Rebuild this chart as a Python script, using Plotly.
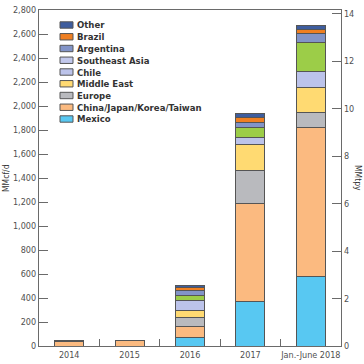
import plotly.graph_objects as go

categories = ["2014", "2015", "2016", "2017", "Jan.-June 2018"]

# MMcf/d, stacked bottom -> top
mexico = [0, 0, 68, 373, 579]
china_japan_korea_taiwan = [36, 46, 97, 812, 1244]
europe = [10, 4, 70, 277, 120]
middle_east = [0, 0, 61, 215, 208]
chile = [0, 0, 80, 63, 136]
southeast_asia = [0, 0, 45, 78, 240]
argentina = [0, 0, 41, 44, 80]
brazil = [0, 0, 23, 45, 33]
other = [0, 0, 17, 28, 28]

series = [
    ("Mexico", mexico, "#58c8f2", "#58c8f2"),
    ("China/Japan/Korea/Taiwan", china_japan_korea_taiwan, "#fbba80", "#fbba80"),
    ("Europe", europe, "#b9babe", "#b9babe"),
    ("Middle East", middle_east, "#ffda72", "#ffda72"),
    ("Chile", chile, "#bcc3ea", "#bcc3ea"),
    ("Southeast Asia", southeast_asia, "#9ccd48", "#c2c8ec"),
    ("Argentina", argentina, "#8294c8", "#8294c8"),
    ("Brazil", brazil, "#ef7f22", "#ef7f22"),
    ("Other", other, "#3e5d9e", "#3e5d9e"),
]

left_ticks = list(range(0, 2801, 200))
right_ticks = list(range(0, 15, 2))

FONT = "DejaVu Sans Condensed, Liberation Sans Narrow, sans-serif"
AX = "#6a6a6a"
TXT = "#505050"

fig = go.Figure()
for name, vals, col, _ in series:
    fig.add_trace(go.Bar(
        x=categories, y=vals, name=name,
        marker=dict(color=col, line=dict(color="#555555", width=1)),
        showlegend=False,
    ))

fig.add_trace(go.Scatter(x=categories, y=[None] * len(categories), yaxis="y2",
                         showlegend=False, hoverinfo="skip"))

L, R, T, B = 39, 23, 10, 18
W, H = 364 - L - R, 364 - T - B


def px_x(p):
    return (p - L) / W


def px_y(p):
    return (364 - B - p) / H


shapes = []
annotations = []
for i, (name, vals, col, legcol) in enumerate(reversed(series)):
    cy = 25 + i * 11.75
    shapes.append(dict(type="rect", xref="paper", yref="paper",
                       x0=px_x(60), x1=px_x(73), y0=px_y(cy + 3.2), y1=px_y(cy - 3.2),
                       fillcolor=legcol, line=dict(color="#555555", width=1)))
    annotations.append(dict(xref="paper", yref="paper", x=px_x(75), y=px_y(cy),
                            text=name, showarrow=False,
                            xanchor="left", yanchor="middle",
                            font=dict(family=FONT, size=9.5, color="#333333", weight=600)))

annotations.append(dict(xref="paper", yref="paper", x=px_x(6), y=px_y(178),
                        text="MMcf/d", textangle=-90, showarrow=False,
                        xanchor="center", yanchor="middle",
                        font=dict(family=FONT, size=8.5, color="#333333")))
annotations.append(dict(xref="paper", yref="paper", x=px_x(358), y=px_y(178),
                        text="MMtpy", textangle=90, showarrow=False,
                        xanchor="center", yanchor="middle",
                        font=dict(family=FONT, size=8.5, color="#333333")))

fig.update_layout(
    barmode="stack",
    bargap=0.52,
    width=364, height=364,
    margin=dict(l=L, r=R, t=T, b=B, pad=0, autoexpand=False),
    paper_bgcolor="white", plot_bgcolor="white",
    font=dict(family=FONT, size=9, color=TXT),
    shapes=shapes,
    annotations=annotations,
    hovermode=False,
    xaxis=dict(
        type="category", showline=True, linecolor=AX, linewidth=1.2, mirror=True,
        ticks="inside", ticklen=7, tickcolor=AX, tickson="boundaries",
        tickangle=0, showgrid=False, tickfont=dict(size=9, color=TXT),
        automargin=False,
    ),
    yaxis=dict(
        range=[0, 2800], tickvals=left_ticks, tickformat=",d",
        showline=True, linecolor=AX, linewidth=1.2,
        ticks="inside", ticklen=9, tickcolor=AX, showgrid=False, zeroline=False,
        tickfont=dict(size=9, color=TXT), automargin=False,
    ),
    yaxis2=dict(
        range=[0, 14.15], tickvals=right_ticks, overlaying="y", side="right",
        showline=True, linecolor=AX, linewidth=1.2,
        ticks="inside", ticklen=9, tickcolor=AX, showgrid=False, zeroline=False,
        tickfont=dict(size=9, color=TXT), automargin=False,
    ),
)

fig.write_html("out.html",
               config={"displayModeBar": False},
               post_script="document.body.style.margin='0px';document.body.style.overflow='hidden';")
